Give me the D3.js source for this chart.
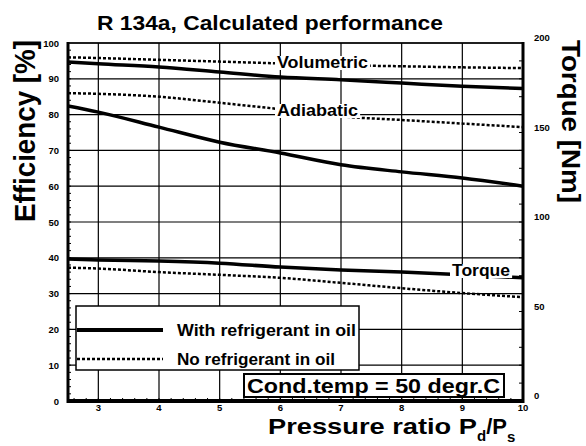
<!DOCTYPE html>
<head>
  <meta charset="utf-8">
  <script src="https://d3js.org/d3.v7.min.js"></script>
  <style>
    body { margin:0; background:#fff; }
    text { font-family: Arial, "Liberation Sans", sans-serif; fill:#000; }
  </style>
</head>
<body>
<script>
  // pressure ratio Pd/Ps
  var ratio = [2.5, 3, 4, 5, 6, 7, 8, 9, 10];
  // efficiency [%]
  var volWith  = [94.7, 94.2, 93.3, 91.9, 90.5, 89.7, 88.8, 87.9, 87.3];
  var volNo    = [96, 95.8, 95.3, 94.8, 94.3, 93.8, 93.5, 93.2, 93];
  var adiaWith = [82.4, 80.7, 76.5, 72.3, 69.3, 66, 64, 62.3, 60];
  var adiaNo   = [86, 85.8, 85, 83.3, 81.5, 79.5, 78.5, 77.5, 76.5];
  // torque [Nm]
  var torqueWith = [79.3, 78.8, 78.2, 77, 74.8, 73.2, 72, 70.5, 68.8];
  var torqueNo   = [74.5, 74, 72, 70.5, 68.8, 66, 63, 60.3, 58];

  var xTicks = [3, 4, 5, 6, 7, 8, 9, 10];
  var effTicks = [0, 10, 20, 30, 40, 50, 60, 70, 80, 90, 100];
  var torqueTicks = [0, 50, 100, 150, 200];

  var width = 586, height = 446;
  var pL = 68, pR = 523, pT = 43, pB = 401;

  var svg = d3.select("body").append("svg")
    .attr("width", width)
    .attr("height", height);

  var x = d3.scaleLinear().domain([2.5, 10]).range([pL, pR]);
  var y = d3.scaleLinear().domain([0, 100]).range([pB, pT]);
  var yT = d3.scaleLinear().domain([0, 200]).range([pB, pT]);

  // grid
  svg.append("g").selectAll("line").data(xTicks.slice(0, -1))
    .enter().append("line")
    .attr("x1", d => x(d)).attr("x2", d => x(d))
    .attr("y1", pT).attr("y2", pB)
    .attr("stroke", "#000").attr("stroke-width", 1.2);
  svg.append("g").selectAll("line").data(effTicks.slice(1))
    .enter().append("line")
    .attr("x1", pL).attr("x2", pR)
    .attr("y1", d => y(d)).attr("y2", d => y(d))
    .attr("stroke", "#000").attr("stroke-width", 1.2);

  // minor ticks
  svg.append("g").selectAll("line").data(d3.range(0, 100, 2))
    .enter().append("line")
    .attr("x1", pL).attr("x2", pL + 3)
    .attr("y1", d => y(d)).attr("y2", d => y(d))
    .attr("stroke", "#000").attr("stroke-width", 1);
  svg.append("g").selectAll("line").data(d3.range(0, 200, 10))
    .enter().append("line")
    .attr("x1", pR).attr("x2", pR - 4)
    .attr("y1", d => yT(d)).attr("y2", d => yT(d))
    .attr("stroke", "#000").attr("stroke-width", 1);
  svg.append("g").selectAll("line").data(d3.range(2.6, 10, 0.2))
    .enter().append("line")
    .attr("x1", d => x(d)).attr("x2", d => x(d))
    .attr("y1", pB).attr("y2", pB - 3)
    .attr("stroke", "#000").attr("stroke-width", 1);

  // series
  var lineEff = d3.line().x((d, i) => x(ratio[i])).y(d => y(d)).curve(d3.curveMonotoneX);
  var lineTor = d3.line().x((d, i) => x(ratio[i])).y(d => yT(d)).curve(d3.curveMonotoneX);

  var solid = [volWith, adiaWith];
  var dotted = [volNo, adiaNo];

  svg.append("g").selectAll("path").data(solid)
    .enter().append("path")
    .attr("d", lineEff)
    .attr("fill", "none").attr("stroke", "#000").attr("stroke-width", 3.5);
  svg.append("g").selectAll("path").data(dotted)
    .enter().append("path")
    .attr("d", lineEff)
    .attr("fill", "none").attr("stroke", "#000").attr("stroke-width", 2.5)
    .attr("stroke-dasharray", "3,2");
  svg.append("path").datum(torqueWith)
    .attr("d", lineTor)
    .attr("fill", "none").attr("stroke", "#000").attr("stroke-width", 3.5);
  svg.append("path").datum(torqueNo)
    .attr("d", lineTor)
    .attr("fill", "none").attr("stroke", "#000").attr("stroke-width", 2.5)
    .attr("stroke-dasharray", "3,2");

  // curve labels with white background
  function curveLabel(txt, lx, ly, len) {
    var t = svg.append("text")
      .attr("x", lx).attr("y", ly)
      .attr("font-size", 16).attr("font-weight", "bold")
      .attr("textLength", len).attr("lengthAdjust", "spacingAndGlyphs")
      .text(txt);
    var b = t.node().getBBox();
    svg.insert("rect", function() { return t.node(); })
      .attr("x", b.x - 2).attr("y", b.y + 2)
      .attr("width", b.width + 4).attr("height", b.height - 3)
      .attr("fill", "#fff");
  }
  curveLabel("Volumetric", 277, 68, 91);
  curveLabel("Adiabatic", 277, 116, 81);
  curveLabel("Torque", 452, 276, 58);

  // axes frame
  svg.append("line").attr("x1", pL).attr("x2", pR).attr("y1", pT).attr("y2", pT)
    .attr("stroke", "#000").attr("stroke-width", 1.5);
  svg.append("line").attr("x1", pL).attr("x2", pL).attr("y1", pT - 1).attr("y2", pB + 2)
    .attr("stroke", "#000").attr("stroke-width", 3);
  svg.append("line").attr("x1", pR).attr("x2", pR).attr("y1", pT - 1).attr("y2", pB + 2)
    .attr("stroke", "#000").attr("stroke-width", 3);
  svg.append("line").attr("x1", pL - 1).attr("x2", pR + 1).attr("y1", pB).attr("y2", pB)
    .attr("stroke", "#000").attr("stroke-width", 4);

  // tick labels
  svg.append("g").selectAll("text").data(effTicks)
    .enter().append("text")
    .attr("x", pL - 9).attr("y", d => y(d) + 3.5)
    .attr("text-anchor", "end")
    .attr("font-size", 9.5).attr("font-weight", "bold")
    .text(d => d);
  svg.append("g").selectAll("text").data(torqueTicks)
    .enter().append("text")
    .attr("x", pR + 11).attr("y", d => yT(d) - 2)
    .attr("font-size", 9.5).attr("font-weight", "bold")
    .text(d => d);
  svg.append("g").selectAll("text").data(xTicks)
    .enter().append("text")
    .attr("x", d => x(d)).attr("y", 411)
    .attr("text-anchor", "middle")
    .attr("font-size", 9.5).attr("font-weight", "bold")
    .text(d => d);

  // legend
  svg.append("rect").attr("x", 76).attr("y", 306).attr("width", 283).attr("height", 64)
    .attr("fill", "#fff").attr("stroke", "#000").attr("stroke-width", 1.5);
  svg.append("line").attr("x1", 77).attr("x2", 163).attr("y1", 330).attr("y2", 330)
    .attr("stroke", "#000").attr("stroke-width", 4);
  svg.append("line").attr("x1", 77).attr("x2", 163).attr("y1", 359).attr("y2", 359)
    .attr("stroke", "#000").attr("stroke-width", 2.5).attr("stroke-dasharray", "3,2");
  svg.append("text").attr("x", 177).attr("y", 336)
    .attr("font-size", 17).attr("font-weight", "bold")
    .attr("textLength", 179).attr("lengthAdjust", "spacingAndGlyphs")
    .text("With refrigerant in oil");
  svg.append("text").attr("x", 177).attr("y", 365)
    .attr("font-size", 17).attr("font-weight", "bold")
    .attr("textLength", 158).attr("lengthAdjust", "spacingAndGlyphs")
    .text("No refrigerant in oil");

  // condition box
  svg.append("rect").attr("x", 244).attr("y", 374).attr("width", 260).attr("height", 23)
    .attr("fill", "#fff").attr("stroke", "#000").attr("stroke-width", 2);
  svg.append("text").attr("x", 247).attr("y", 393)
    .attr("font-size", 21).attr("font-weight", "bold")
    .attr("textLength", 253).attr("lengthAdjust", "spacingAndGlyphs")
    .text("Cond.temp = 50 degr.C");

  // titles
  svg.append("text").attr("x", 97).attr("y", 30)
    .attr("font-size", 21).attr("font-weight", "bold")
    .attr("textLength", 346).attr("lengthAdjust", "spacingAndGlyphs")
    .text("R 134a, Calculated performance");
  svg.append("text")
    .attr("transform", "translate(35,222) rotate(-90)")
    .attr("font-size", 30).attr("font-weight", "bold")
    .attr("textLength", 182).attr("lengthAdjust", "spacingAndGlyphs")
    .text("Efficiency [%]");
  svg.append("text")
    .attr("transform", "translate(562,40) rotate(90)")
    .attr("font-size", 26).attr("font-weight", "bold")
    .attr("textLength", 163).attr("lengthAdjust", "spacingAndGlyphs")
    .text("Torque [Nm]");

  var xl = svg.append("text").attr("x", 268).attr("y", 434)
    .attr("font-size", 22).attr("font-weight", "bold");
  xl.append("tspan").attr("textLength", 209).attr("lengthAdjust", "spacingAndGlyphs")
    .text("Pressure ratio P");
  xl.append("tspan").attr("dy", 7).attr("font-size", 15).text("d");
  xl.append("tspan").attr("dy", -7).text("/P");
  xl.append("tspan").attr("dy", 8).attr("font-size", 15).text("s");
</script>
</body>
